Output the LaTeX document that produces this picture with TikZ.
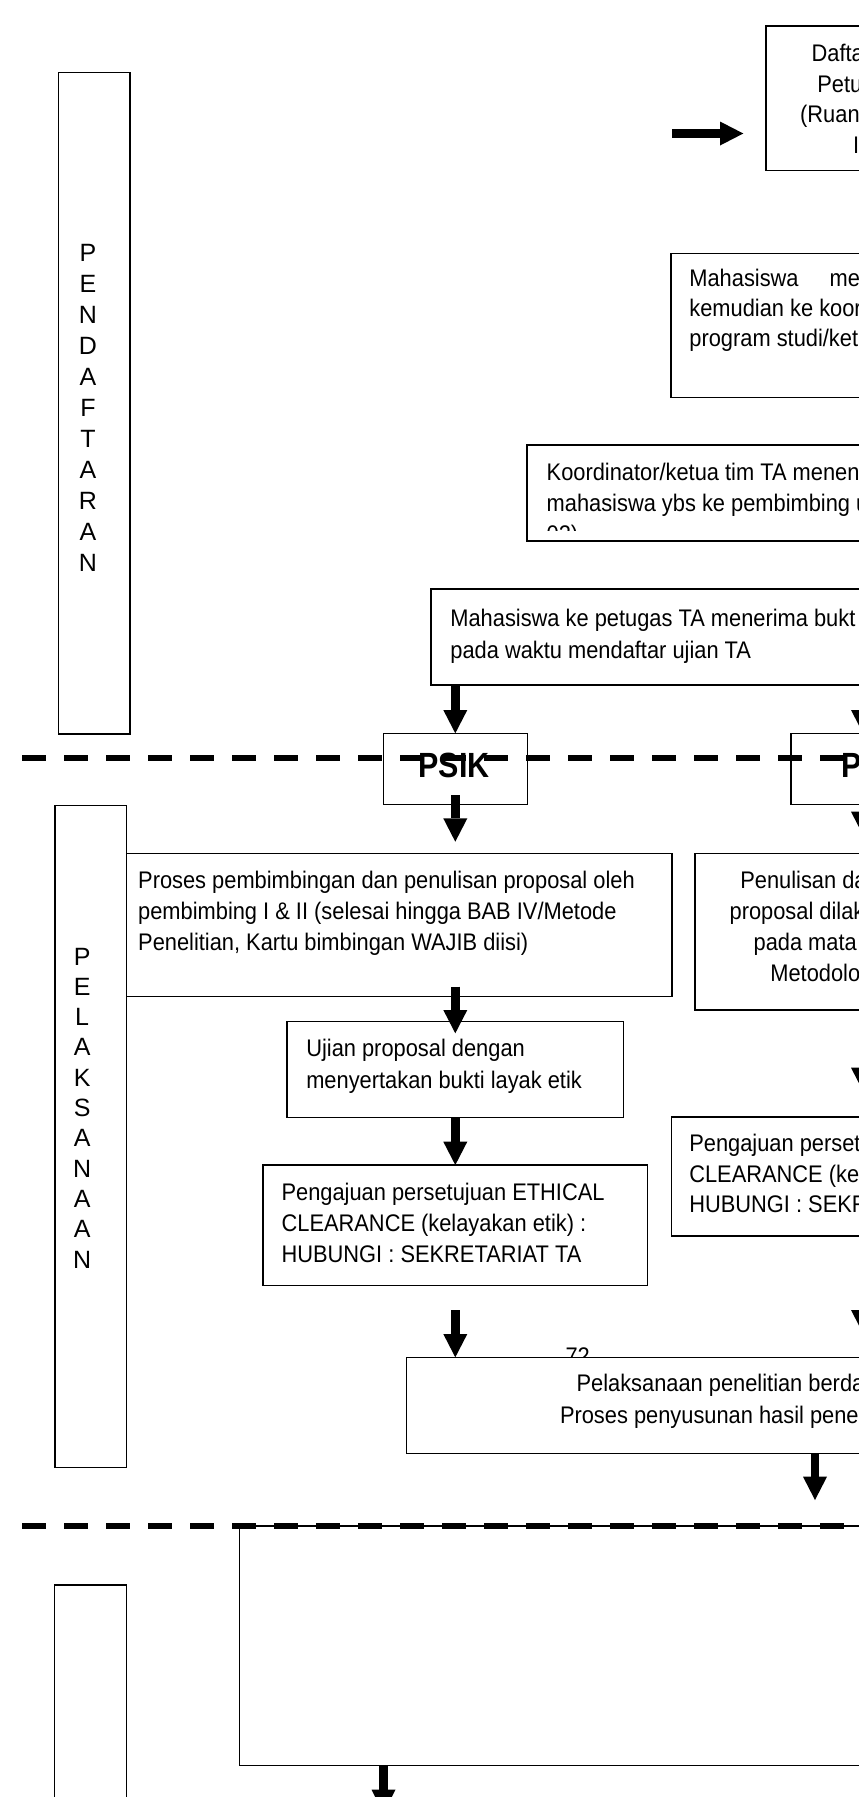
\documentclass[tikz,border=0pt]{standalone}
\usepackage{fontspec}
\setmainfont{Liberation Sans}
\newfontfamily\bodyf[FakeStretch=0.91]{Liberation Sans}
\newfontfamily\psikf[FakeStretch=0.87]{Liberation Sans Bold}
\usetikzlibrary{arrows.meta}
\newcommand\mytxt[1]{\bodyf\fontsize{24}{#1}\selectfont}
\newcommand\mkbox[5]{\node[box, minimum width={(#4)-(#2)}, minimum height={(#5)-(#3)}] (#1) at (#2,#3) {};}
\begin{document}
\begin{tikzpicture}[x=1pt,y=-1pt,
  box/.style={draw, line width=1.5pt, fill=white, inner sep=0pt, outer sep=0pt, anchor=north west, rectangle},
  txt/.style={anchor=base west, inner sep=0pt, outer sep=0pt},
  vtxt/.style={anchor=base, inner sep=0pt, outer sep=0pt},
  arr/.style={line width=8.5pt, -{Triangle[length=23.3pt,width=24pt,line width=0pt]}},
  dline/.style={line width=6.5pt, dash pattern=on 24pt off 18pt}]
\useasboundingbox (0,0) rectangle (859,1797);
\fill[white] (0,0) rectangle (859,1797);
\clip (0,0) rectangle (859,1797);

% page number behind the box
\node[txt, font=\mytxt{31}] (pnum) at (565.5,1364) {72};

% side boxes
\mkbox{pend}{58.5}{72.3}{130.2}{734}
\mkbox{pelak}{54.8}{805.7}{126.6}{1467.3}
\mkbox{side3}{54.5}{1585}{126.6}{1850}
% flow boxes
\mkbox{dafta}{766}{26}{1000}{170.7}
\mkbox{mhsme}{671}{253.3}{1000}{397.3}
\mkbox{koord}{527}{445}{1000}{541}
\mkbox{mhspet}{431}{589}{1000}{685}
\mkbox{psik}{383.3}{733.3}{527.3}{804.3}
\mkbox{pbox}{791}{733.3}{935}{804.3}
\mkbox{proses}{126.6}{853.3}{671.8}{996.7}
\mkbox{penul}{695}{853.3}{1000}{1010}
\mkbox{ujian}{287}{1021.7}{623.6}{1117.3}
\mkbox{pengL}{263}{1165}{647.7}{1285.5}
\mkbox{pengR}{671.7}{1117}{1000}{1236}
\mkbox{pelaks}{406.7}{1357.3}{1000}{1453.5}
\mkbox{big}{239.3}{1526}{1000}{1765.7}

% vertical labels
\node[vtxt, font=\fontsize{25}{31}\selectfont] (tpend) at (88,261.5)
  {\begin{tabular}[t]{@{}c@{}}P\\E\\N\\D\\A\\F\\T\\A\\R\\A\\N\end{tabular}};
\node[vtxt, font=\fontsize{25}{30.3}\selectfont] (tpelak) at (82.2,965)
  {\begin{tabular}[t]{@{}c@{}}P\\E\\L\\A\\K\\S\\A\\N\\A\\A\\N\end{tabular}};

% box texts
\node[txt, font=\mytxt{30.6}] (tdafta) at (800.2,61.7)
  {\begin{tabular}[t]{@{}l@{}}\hspace{11.4pt}Dafta\\\hspace{17.1pt}Petu\\(Ruang\\\hspace{52.8pt}I\end{tabular}};
\node[txt, font=\mytxt{30}] (tmhsme) at (689.4,286)
  {\begin{tabular}[t]{@{}l@{}}Mahasiswa\hspace{25pt} me\\kemudian ke koor\\program studi/ket\end{tabular}};
\begin{scope}
\clip (527,445) rectangle (1000,530);
\node[txt, font=\mytxt{31}] (tkoord) at (546.7,480)
  {\begin{tabular}[t]{@{}l@{}}Koordinator/ketua tim TA menen\\mahasiswa ybs ke pembimbing u\\02)\end{tabular}};
\end{scope}
\node[txt, font=\mytxt{32}] (tmhspet) at (450.4,626)
  {\begin{tabular}[t]{@{}l@{}}Mahasiswa ke petugas TA menerima bukt\\pada waktu mendaftar ujian TA\end{tabular}};
\node[txt, font=\psikf\fontsize{35}{40}\selectfont] (tpsik) at (418.6,777.3) {PSIK};
\node[txt, font=\psikf\fontsize{35}{40}\selectfont] (tpbox) at (841.2,777.3) {P};
\node[txt, font=\mytxt{31}] (tproses) at (138.2,888.5)
  {\begin{tabular}[t]{@{}l@{}}Proses pembimbingan dan penulisan proposal oleh\\pembimbing I \& II (selesai hingga BAB IV/Metode\\Penelitian, Kartu bimbingan WAJIB diisi)\end{tabular}};
\node[txt, font=\mytxt{31}] (tpenul) at (729.6,888.5)
  {\begin{tabular}[t]{@{}l@{}}\hspace{10.7pt}Penulisan da\\proposal dilak\\\hspace{24pt}pada mata\\\hspace{40.8pt}Metodolo\end{tabular}};
\node[txt, font=\mytxt{31.6}] (tujian) at (306.3,1056.7)
  {\begin{tabular}[t]{@{}l@{}}Ujian proposal dengan\\menyertakan bukti layak etik\end{tabular}};
\node[txt, font=\mytxt{31}] (tpengL) at (281.6,1200)
  {\begin{tabular}[t]{@{}l@{}}Pengajuan persetujuan ETHICAL\\CLEARANCE (kelayakan etik) :\\HUBUNGI : SEKRETARIAT TA\end{tabular}};
\node[txt, font=\mytxt{30.5}] (tpengR) at (689.3,1151.5)
  {\begin{tabular}[t]{@{}l@{}}Pengajuan perset\\CLEARANCE (ke\\HUBUNGI : SEKR\end{tabular}};
\node[txt, font=\mytxt{31.6}] (tpelaks) at (560,1391.7)
  {\begin{tabular}[t]{@{}l@{}}\hspace{16.6pt}Pelaksanaan penelitian berda\\Proses penyusunan hasil pene\end{tabular}};

% dashed separators
\coordinate (d1s) at (22,758);  \coordinate (d1e) at (900,758);
\coordinate (d2s) at (22,1526); \coordinate (d2e) at (900,1526);
\draw[dline] (d1s) -- (d1e);
\draw[dline] (d2s) -- (d2e);

% arrows
\coordinate (a1s) at (672,133.5);
\draw[arr] (a1s) -- ([xshift=-22.7pt]a1s -| dafta.west);
\draw[arr] (psik.north |- mhspet.south) -- (psik.north);
\draw[arr] (pbox.north |- mhspet.south) -- (pbox.north);
\draw[arr] ([yshift=9.3pt]psik.south) -- ([yshift=11.6pt]psik.south |- proses.north);
\draw[arr] ([yshift=9.3pt]pbox.south) -- ([yshift=18.3pt]pbox.south |- penul.north);
\draw[arr] ([yshift=10pt]proses.south -| psik.south) -- ([yshift=-11.6pt]ujian.north -| psik.south);
\draw[arr] (ujian.south -| psik.south) -- (pengL.north -| psik.south);
\draw[arr] (penul.south -| pbox.south) -- ([yshift=26pt]pengR.north -| pbox.south);
\draw[arr] ([yshift=-24.5pt]pengL.south -| psik.south) -- (pelaks.north -| psik.south);
\draw[arr] (pengR.south -| pbox.south) -- ([yshift=24pt]pelaks.north -| pbox.south);
\coordinate (a11e) at (815,1500);
\draw[arr] (pelaks.south -| a11e) -- (a11e);
\coordinate (a12e) at (383.5,1813);
\draw[arr] (big.south -| a12e) -- (a12e);
\end{tikzpicture}
\end{document}
